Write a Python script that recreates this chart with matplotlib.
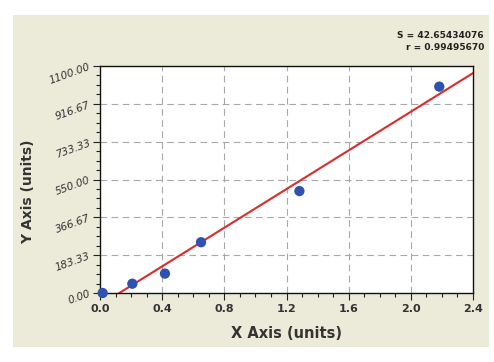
import numpy as np
import matplotlib
matplotlib.use("Agg")
import matplotlib.pyplot as plt
from matplotlib.patches import Rectangle
from matplotlib.ticker import MultipleLocator, FixedLocator

# Data
x_vals = [0.017, 0.208, 0.418, 0.650, 1.283, 2.183]
y_vals = [0.0, 45.0, 94.0, 246.0, 494.0, 1000.0]
x_ticks = [0.0, 0.4, 0.8, 1.2, 1.6, 2.0, 2.4]
y_ticks = [0.0, 183.33, 366.67, 550.00, 733.33, 916.67, 1100.00]
y_tick_labels = ["0.00", "183.33", "366.67", "550.00", "733.33", "916.67", "1100.00"]
stat_lines = ["S = 42.65434076", "r = 0.99495670"]

W, H = 494, 362
fig = plt.figure(figsize=(W / 100, H / 100), dpi=100, facecolor="white")
bg = Rectangle((13 / W, 1 - 347 / H), (489 - 13) / W, (347 - 15) / H,
               transform=fig.transFigure, facecolor="#ecead9",
               edgecolor="none", zorder=-10)
fig.add_artist(bg)

ax = fig.add_axes([100 / W, 1 - 293 / H, (473 - 100) / W, (293 - 66) / H])
ax.set_zorder(5)
ax.set_facecolor("white")
ax.set_xlim(0, 2.4)
ax.set_ylim(0, 1100)

# grid
for xv in x_ticks[1:-1]:
    ax.axvline(xv, color="#a8a8a8", lw=0.8, ls=(0, (6, 4)), zorder=1)
for yv in y_ticks[1:-1]:
    ax.axhline(yv, color="#a8a8a8", lw=0.8, ls=(0, (6, 4)), zorder=1)

# fit line
b, a = np.polyfit(x_vals, y_vals, 1)
x0 = -a / b
xs = np.linspace(x0, 2.4, 100)
ax.plot(xs, a + b * xs, color="#e02a2a", lw=1.5, zorder=2, clip_on=True)

ax.scatter(x_vals, y_vals, s=55, color="#2f52b0", zorder=3, clip_on=False,
           edgecolors="none")

ax.xaxis.set_major_locator(FixedLocator(x_ticks))
ax.xaxis.set_minor_locator(MultipleLocator(0.1))
ax.yaxis.set_major_locator(FixedLocator(y_ticks))
ax.yaxis.set_minor_locator(MultipleLocator(1100 / 24))
ax.set_xticklabels([f"{v:.1f}" for v in x_ticks], fontsize=8, fontweight="bold",
                   color="#333333")
ax.set_yticklabels(y_tick_labels, fontsize=7.5, rotation=20, style="italic",
                   color="#333333")
ax.tick_params(axis="both", which="major", direction="out", length=5, width=0.8,
               color="#222222")
ax.tick_params(axis="both", which="minor", direction="out", length=3, width=0.8,
               color="#222222")
ax.tick_params(axis="x", pad=3)
ax.tick_params(axis="y", pad=1)
for sp in ax.spines.values():
    sp.set_color("#111111")
    sp.set_linewidth(1.0)

fig.text(286 / W, 1 - 333 / H, "X Axis (units)", ha="center", va="center",
         fontsize=10.5, fontweight="bold", color="#333333")
fig.text(28 / W, 1 - 192 / H, "Y Axis (units)", ha="center", va="center",
         rotation=90, fontsize=10, fontweight="bold", color="#333333")

fig.text(484 / W, 1 - 36 / H, stat_lines[0], ha="right", va="center",
         fontsize=6.5, fontweight="bold", color="#222222")
fig.text(484 / W, 1 - 48 / H, stat_lines[1], ha="right", va="center",
         fontsize=6.5, fontweight="bold", color="#222222")

fig.savefig("out.png", dpi=100, facecolor="white")
